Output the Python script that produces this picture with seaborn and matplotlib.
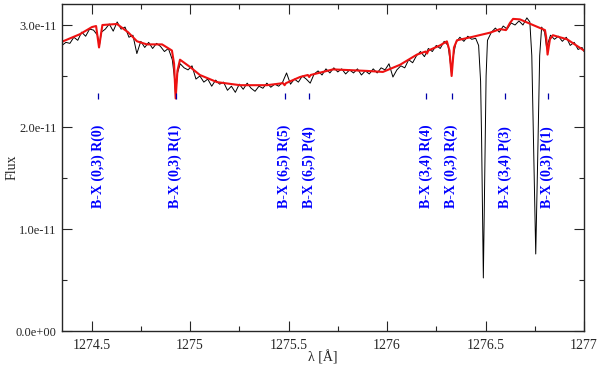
import matplotlib
matplotlib.use("Agg")
import matplotlib.pyplot as plt
import matplotlib.ticker as mticker
import seaborn as sns
import pandas as pd

# observed spectrum (wavelength in A, flux in 1e-11)
obs_wave = [
    1274.35, 1274.37, 1274.39, 1274.41, 1274.43, 1274.45, 1274.47, 1274.49, 1274.51, 1274.53,
    1274.54, 1274.55, 1274.57, 1274.59, 1274.61, 1274.63, 1274.65, 1274.67, 1274.69, 1274.71,
    1274.73, 1274.75, 1274.77, 1274.79, 1274.81, 1274.83, 1274.85, 1274.87, 1274.89, 1274.91,
    1274.92, 1274.927, 1274.935, 1274.95, 1274.97, 1274.99, 1275.01, 1275.03, 1275.05, 1275.07,
    1275.09, 1275.11, 1275.13, 1275.15, 1275.17, 1275.19, 1275.21, 1275.23, 1275.25, 1275.27,
    1275.29, 1275.31, 1275.33, 1275.35, 1275.37, 1275.39, 1275.41, 1275.43, 1275.45, 1275.47,
    1275.49, 1275.51, 1275.53, 1275.55, 1275.57, 1275.59, 1275.61, 1275.63, 1275.65, 1275.67,
    1275.69, 1275.71, 1275.73, 1275.75, 1275.77, 1275.79, 1275.81, 1275.83, 1275.85, 1275.87,
    1275.89, 1275.91, 1275.93, 1275.95, 1275.97, 1275.99, 1276.01, 1276.03, 1276.05, 1276.07,
    1276.09, 1276.11, 1276.13, 1276.15, 1276.17, 1276.19, 1276.21, 1276.23, 1276.25, 1276.27,
    1276.29, 1276.31, 1276.32, 1276.328, 1276.335, 1276.35, 1276.37, 1276.39, 1276.41, 1276.43,
    1276.45, 1276.465, 1276.475, 1276.48, 1276.485, 1276.489, 1276.493, 1276.498, 1276.503, 1276.51,
    1276.53, 1276.55, 1276.57, 1276.59, 1276.61, 1276.63, 1276.65, 1276.67, 1276.69, 1276.71,
    1276.725, 1276.735, 1276.745, 1276.755, 1276.765, 1276.775, 1276.785, 1276.80, 1276.81, 1276.83,
    1276.85, 1276.87, 1276.89, 1276.91, 1276.93, 1276.95, 1276.97, 1276.99, 1277.00,
]
obs_flux = [
    2.80, 2.83, 2.82, 2.88, 2.85, 2.93, 2.89, 2.96, 2.95, 2.90,
    2.80, 2.93, 2.96, 3.01, 2.94, 3.03, 2.96, 2.98, 2.88, 2.90,
    2.72, 2.84, 2.78, 2.83, 2.77, 2.82, 2.79, 2.74, 2.77, 2.66,
    2.50, 2.30, 2.52, 2.62, 2.58, 2.56, 2.60, 2.47, 2.50, 2.44,
    2.47, 2.40, 2.46, 2.42, 2.44, 2.36, 2.40, 2.34, 2.42, 2.37,
    2.43, 2.38, 2.35, 2.40, 2.38, 2.43, 2.39, 2.42, 2.40, 2.44,
    2.53, 2.42, 2.47, 2.44, 2.50, 2.47, 2.43, 2.52, 2.55, 2.51,
    2.57, 2.53, 2.58, 2.54, 2.57, 2.52, 2.56, 2.53, 2.57, 2.51,
    2.55, 2.52, 2.57, 2.53, 2.58, 2.56, 2.62, 2.49, 2.56, 2.60,
    2.58, 2.66, 2.63, 2.70, 2.74, 2.69, 2.77, 2.74, 2.80, 2.77,
    2.84, 2.80, 2.65, 2.52, 2.68, 2.83, 2.88, 2.84, 2.89, 2.86,
    2.87, 2.80, 2.45, 1.90, 1.10, 0.52, 1.10, 1.90, 2.50, 2.85,
    2.93, 2.97, 2.93, 2.99, 2.96, 3.02, 3.00, 3.04, 3.00, 3.07,
    3.03, 2.70, 1.70, 0.755, 1.70, 2.70, 2.98, 2.93, 2.78, 2.90,
    2.86, 2.89, 2.84, 2.88, 2.80, 2.83, 2.76, 2.78, 2.74,
]

# model fit
model_wave = [
    1274.350, 1274.441, 1274.502, 1274.523, 1274.538, 1274.555, 1274.629, 1274.685, 1274.731, 1274.781,
    1274.858, 1274.908, 1274.919, 1274.927, 1274.936, 1274.949, 1274.999, 1275.050, 1275.137, 1275.254,
    1275.391, 1275.472, 1275.480, 1275.487, 1275.558, 1275.598, 1275.605, 1275.612, 1275.726, 1275.898,
    1275.979, 1276.066, 1276.152, 1276.196, 1276.203, 1276.210, 1276.269, 1276.304, 1276.317, 1276.328,
    1276.340, 1276.355, 1276.436, 1276.523, 1276.574, 1276.604, 1276.624, 1276.640, 1276.675, 1276.741,
    1276.802, 1276.808, 1276.815, 1276.827, 1276.842, 1276.914, 1277.000,
]
model_flux = [
    2.836, 2.91, 2.98, 2.99, 2.78, 3.00, 3.01, 2.93, 2.84, 2.81,
    2.81, 2.75, 2.62, 2.28, 2.55, 2.66, 2.59, 2.51, 2.44, 2.41,
    2.41, 2.43, 2.41, 2.43, 2.49, 2.51, 2.49, 2.51, 2.565, 2.55,
    2.54, 2.61, 2.71, 2.74, 2.72, 2.75, 2.80, 2.84, 2.75, 2.50,
    2.78, 2.85, 2.885, 2.925, 2.96, 2.95, 3.02, 3.06, 3.055, 3.00,
    2.95, 2.88, 2.71, 2.86, 2.90, 2.86, 2.75,
]

# line identifications
line_wave = [1274.535, 1274.927, 1275.480, 1275.605, 1276.200, 1276.328, 1276.600, 1276.815]
line_labels = [
    "B-X (0,3) R(0)", "B-X (0,3) R(1)", "B-X (6,5) R(5)", "B-X (6,5) P(4)",
    "B-X (3,4) R(4)", "B-X (0,3) R(2)", "B-X (3,4) P(3)", "B-X (0,3) P(1)",
]

xticks = [1274.5, 1275, 1275.5, 1276, 1276.5, 1277]
xminor = [1274.75, 1275.25, 1275.75, 1276.25, 1276.75]
yticks = [0, 1e-11, 2e-11, 3e-11]
yminor = [0.5e-11, 1.5e-11, 2.5e-11]

sns.set_style("ticks")
plt.rcParams["font.family"] = ["Liberation Serif", "DejaVu Serif"]
plt.rcParams["axes.linewidth"] = 1.0

obs = pd.DataFrame({"wave": obs_wave, "flux": [f * 1e-11 for f in obs_flux]})
model = pd.DataFrame({"wave": model_wave, "flux": [f * 1e-11 for f in model_flux]})

fig = plt.figure(figsize=(6, 3.66), dpi=100)
ax = fig.add_axes([62 / 600, 1 - 331 / 366, 522 / 600, 327 / 366])

sns.lineplot(data=obs, x="wave", y="flux", color="black", lw=0.7, estimator=None, sort=False, ax=ax)
sns.lineplot(data=model, x="wave", y="flux", color="#ee1111", lw=1.5, estimator=None, sort=False, ax=ax)

ax.vlines(line_wave, 2.27e-11, 2.33e-11, color="#0000aa", lw=0.9)
for w, lab in zip(line_wave, line_labels):
    ax.text(w, 1.206e-11, lab, rotation=90, ha="center", va="bottom",
            color="#0000ff", fontweight="bold", fontsize=10)

ax.set_xlim(1274.35, 1277.0)
ax.set_ylim(0, 3.206e-11)
ax.set_xticks(xticks)
ax.set_xticks(xminor, minor=True)
ax.set_yticks(yticks)
ax.set_yticks(yminor, minor=True)
ax.set_xticklabels(["%g" % v for v in xticks])
ax.set_yticklabels(["%.1e" % v for v in yticks])
ax.tick_params(which="both", direction="in", top=True, right=True, width=0.8)
ax.tick_params(which="major", length=7)
ax.tick_params(which="minor", length=3.5)
ax.tick_params(axis="x", labelsize=10, pad=6)
ax.tick_params(axis="y", labelsize=9, pad=4)

ax.set_xlabel("λ [Å]", fontsize=10)
ax.set_ylabel("Flux", fontsize=10)
ax.xaxis.set_label_coords(0.5, -0.058)
ax.yaxis.set_label_coords(-0.083, 0.5)

fig.savefig("out.png", dpi=100)
